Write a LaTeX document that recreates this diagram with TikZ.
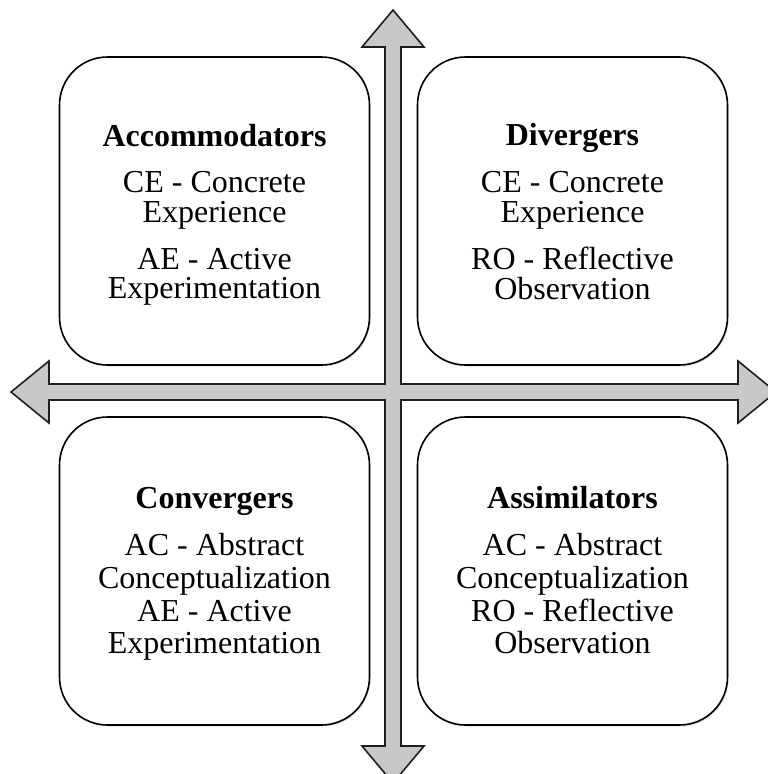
\documentclass[tikz,border=0pt]{standalone}
\usepackage{fontspec}
\setmainfont{Liberation Serif}
\usetikzlibrary{shadows}
\definecolor{arrowgray}{RGB}{200,200,200}
\definecolor{edgedark}{RGB}{30,30,30}
\begin{document}
\begin{tikzpicture}[x={(1pt,0)},y={(0,-1pt)},
  quadbox/.style={draw=black,line width=1.6pt,rounded corners=48pt,fill=white,
    minimum width=310pt,minimum height=308pt,inner sep=0pt,
    drop shadow={shadow xshift=1.2pt,shadow yshift=-1.5pt,opacity=0.25}},
  txt/.style={anchor=base,inner sep=0pt,font=\fontsize{32}{34}\selectfont},
  ttl/.style={txt,font=\fontsize{32}{34}\selectfont\bfseries},
  crossarrow/.style={draw=edgedark,line width=1.6pt,fill=arrowgray,line join=miter}]
\useasboundingbox (0,0) rectangle (768,774);
\begin{scope}
\clip (0,0) rectangle (768,774);
\draw[crossarrow] (385,384) -- (385,47) -- (362,47) -- (393,10) -- (424,47) -- (401,47)
  -- (401,384) -- (738,384) -- (738,361) -- (776,392) -- (738,423) -- (738,400)
  -- (401,400) -- (401,746) -- (424,746) -- (393,783) -- (362,746) -- (385,746)
  -- (385,400) -- (49,400) -- (49,423) -- (11,392) -- (49,361) -- (49,384) -- cycle;
\end{scope}
\node[quadbox] (acc) at (214.5,211) {};
\node[quadbox] (div) at (572.5,211) {};
\node[quadbox] (con) at (214.5,571) {};
\node[quadbox] (ass) at (572.5,571) {};
% Accommodators
\node[ttl] (acc1) at (214.5,146) {Accommodators};
\node[txt] (acc2) at (214.5,192) {CE - Concrete};
\node[txt] (acc3) at (214.5,222) {Experience};
\node[txt] (acc4) at (214.5,269) {AE - Active};
\node[txt] (acc5) at (214.5,298) {Experimentation};
% Divergers
\node[ttl] (div1) at (572.5,145) {Divergers};
\node[txt] (div2) at (572.5,192) {CE - Concrete};
\node[txt] (div3) at (572.5,222) {Experience};
\node[txt] (div4) at (572.5,269) {RO - Reflective};
\node[txt] (div5) at (572.5,299) {Observation};
% Convergers
\node[ttl] (con1) at (214.5,508) {Convergers};
\node[txt] (con2) at (214.5,555) {AC - Abstract};
\node[txt] (con3) at (214.5,588) {Conceptualization};
\node[txt] (con4) at (214.5,621) {AE - Active};
\node[txt] (con5) at (214.5,653) {Experimentation};
% Assimilators
\node[ttl] (ass1) at (572.5,508) {Assimilators};
\node[txt] (ass2) at (572.5,555) {AC - Abstract};
\node[txt] (ass3) at (572.5,588) {Conceptualization};
\node[txt] (ass4) at (572.5,621) {RO - Reflective};
\node[txt] (ass5) at (572.5,653) {Observation};
\end{tikzpicture}
\end{document}
